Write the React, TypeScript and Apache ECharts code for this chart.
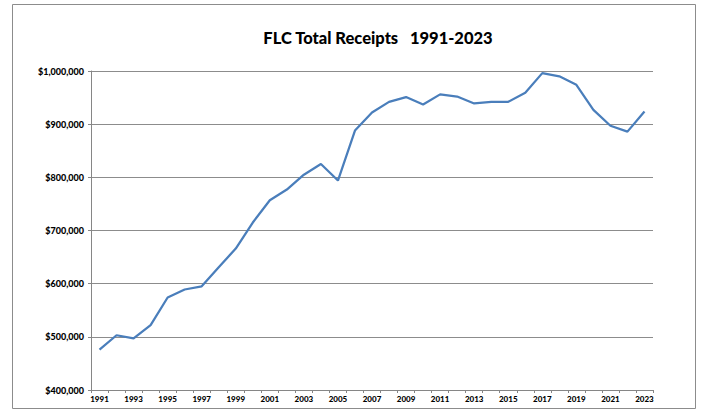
import React, { useEffect, useRef } from "react";
import * as echarts from "echarts";

const years: string[] = [
  "1991", "1992", "1993", "1994", "1995", "1996", "1997", "1998", "1999", "2000",
  "2001", "2002", "2003", "2004", "2005", "2006", "2007", "2008", "2009", "2010",
  "2011", "2012", "2013", "2014", "2015", "2016", "2017", "2018", "2019", "2020",
  "2021", "2022", "2023",
];

const receipts: number[] = [
  476000, 503000, 497000, 522000, 574000, 589000, 595000, 631000, 666000, 715000,
  757000, 777000, 805000, 825000, 794000, 888000, 922000, 942000, 951000, 937000,
  956000, 952000, 939000, 942000, 942000, 959000, 996000, 990000, 974000, 927000,
  897000, 886000, 924000,
];

const yMin = 400000;
const yMax = 1000000;
const yStep = 100000;

const titleText = "FLC Total Receipts   1991-2023";

export default function App() {
  const ref = useRef<HTMLDivElement>(null);
  useEffect(() => {
    if (!ref.current) return;
    const chart = echarts.init(ref.current, null, { renderer: "svg" });
    const font = "Lato, 'Open Sans', sans-serif";
    chart.setOption({
      animation: false,
      backgroundColor: "#ffffff",
      title: {
        text: titleText,
        left: 373,
        top: 24,
        textAlign: "center",
        textStyle: { fontFamily: font, fontWeight: 900, fontSize: 16.5, color: "#000" },
      },
      graphic: [
        {
          type: "rect",
          shape: { x: 12.5, y: 4.5, width: 683, height: 404 },
          style: { fill: "none", stroke: "#8c8c8c", lineWidth: 1 },
          silent: true,
        },
      ],
      grid: { left: 91, right: 51, top: 71, bottom: 23, containLabel: false },
      xAxis: {
        type: "category",
        data: years,
        boundaryGap: true,
        axisLine: { lineStyle: { color: "#868686", width: 1 } },
        axisTick: { show: true, interval: 0, length: 3, lineStyle: { color: "#868686" } },
        axisLabel: {
          interval: 1,
          fontFamily: font,
          fontWeight: 900,
          fontSize: 8,
          color: "#000",
          margin: 5,
        },
        splitLine: { show: false },
      },
      yAxis: {
        type: "value",
        min: yMin,
        max: yMax,
        interval: yStep,
        axisLine: { show: true, lineStyle: { color: "#868686", width: 1 } },
        axisTick: { show: true, length: 3, lineStyle: { color: "#868686" } },
        axisLabel: {
          fontFamily: font,
          fontWeight: 900,
          fontSize: 9,
          color: "#000",
          margin: 7,
          formatter: (v: number) => "$" + v.toLocaleString("en-US"),
        },
        splitLine: { show: true, lineStyle: { color: "#8c8c8c", width: 1 } },
      },
      series: [
        {
          type: "line",
          data: receipts,
          symbol: "none",
          lineStyle: { color: "#4A7EBB", width: 2.25 },
          itemStyle: { color: "#4A7EBB" },
        },
      ],
    });
    return () => chart.dispose();
  }, []);
  return (
    <div
      ref={ref}
      style={{ position: "absolute", left: 0, top: 0, width: 704, height: 413 }}
    />
  );
}
